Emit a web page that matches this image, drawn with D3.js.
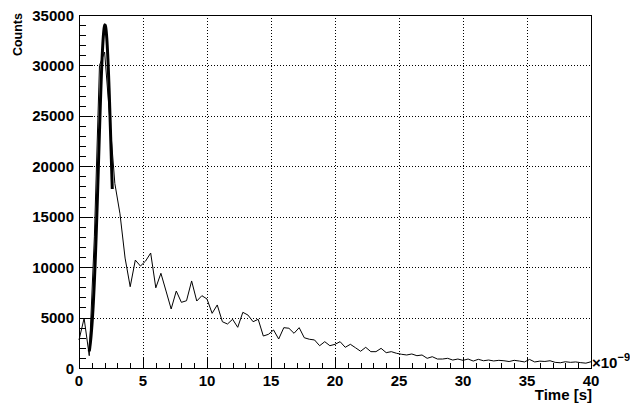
<!DOCTYPE html>
<html>
<head>
<meta charset="utf-8">
<script src="https://cdn.jsdelivr.net/npm/d3@7/dist/d3.min.js"></script>
<style>
  html, body { margin: 0; padding: 0; background: #fff; }
  svg { display: block; font-family: "Liberation Sans", Arial, Helvetica, sans-serif; font-weight: bold; }
</style>
</head>
<body>
<svg id="chart" width="630" height="403"></svg>
<script>
// Histogram of photon arrival times: counts per 0.4 ns bin, starting at t = 0
const binWidth = 0.4;
const counts = [
  2780, 4930, 1220, 13000, 30000, 31330, 24800, 18300, 15300, 10900,
  8060, 10700, 10110, 10600, 11400, 7950, 9390, 7630, 5850, 7630,
  6510, 6670, 8630, 6640, 7170, 6840, 5420, 6250, 4590, 4360,
  4830, 4035, 5520, 5250, 4590, 4830, 3170, 3340, 3770, 2875,
  4000, 3940, 3440, 4000, 3000, 2850, 2780, 2210, 2610, 2210,
  2350, 2610, 2050, 2350, 2010, 1660, 2050, 1620, 1620, 1950,
  1520, 1620, 1460, 1360, 1290, 1390, 1220, 1290, 960, 1120,
  890, 890, 960, 790, 890, 760, 890, 690, 860, 720,
  790, 700, 760, 720, 640, 760, 690, 600, 850, 600,
  680, 650, 720, 560, 520, 620, 560, 600, 530, 480,
  620
];

// Gaussian fit to the prompt peak: [constant, mean, sigma] and fit range (ns)
const fitParams = [34000, 2.03, 0.5];
const fitRange = [0.8, 2.6];

// Axis ticks
const xTicks = [0, 5, 10, 15, 20, 25, 30, 35, 40];
const yTicks = [0, 5000, 10000, 15000, 20000, 25000, 30000, 35000];
const xDomain = [0, 40];
const yDomain = [0, 35000];

const frame = { left: 79, top: 15, right: 591, bottom: 368 };
const svg = d3.select("#chart");

const x = d3.scaleLinear().domain(xDomain).range([frame.left, frame.right]);
const y = d3.scaleLinear().domain(yDomain).range([frame.bottom, frame.top]);

// Dotted grid at the major ticks
const grid = svg.append("g").attr("shape-rendering", "crispEdges")
  .attr("stroke", "#000").attr("stroke-width", 1).attr("stroke-dasharray", "1,2");
grid.selectAll("line.gx").data(xTicks.slice(1, -1)).join("line")
  .attr("x1", d => Math.round(x(d)) + 0.5).attr("x2", d => Math.round(x(d)) + 0.5)
  .attr("y1", frame.top).attr("y2", frame.bottom);
grid.selectAll("line.gy").data(yTicks.slice(1, -1)).join("line")
  .attr("y1", d => Math.round(y(d)) + 0.5).attr("y2", d => Math.round(y(d)) + 0.5)
  .attr("x1", frame.left).attr("x2", frame.right);

// Inward ticks with minor subdivisions
const ticks = svg.append("g").attr("shape-rendering", "crispEdges").attr("stroke", "#000");
const xMinor = d3.range(xDomain[0], xDomain[1] + 0.001, 1);
ticks.selectAll("line.xt").data(xMinor).join("line")
  .attr("x1", d => Math.round(x(d)) + 0.5).attr("x2", d => Math.round(x(d)) + 0.5)
  .attr("y1", frame.bottom)
  .attr("y2", d => frame.bottom - (d % 5 === 0 ? 11 : 5.5));
const yMinor = d3.range(yDomain[0], yDomain[1] + 1, 1000);
ticks.selectAll("line.yt").data(yMinor).join("line")
  .attr("y1", d => Math.round(y(d)) + 0.5).attr("y2", d => Math.round(y(d)) + 0.5)
  .attr("x1", frame.left)
  .attr("x2", d => frame.left + (d % 5000 === 0 ? 14 : 7));

// Frame
svg.append("rect").attr("shape-rendering", "crispEdges")
  .attr("x", frame.left + 0.5).attr("y", frame.top + 0.5)
  .attr("width", frame.right - frame.left).attr("height", frame.bottom - frame.top)
  .attr("fill", "none").attr("stroke", "#000");

// Histogram drawn as a polyline through the bins
const points = counts.map((c, i) => [i * binWidth, c]);
svg.append("path").datum(points)
  .attr("fill", "none").attr("stroke", "#000").attr("stroke-width", 1)
  .attr("stroke-linejoin", "miter")
  .attr("d", d3.line().x(d => x(d[0])).y(d => y(d[1])));

// Gaussian fit curve
const gauss = t => fitParams[0] * Math.exp(-0.5 * Math.pow((t - fitParams[1]) / fitParams[2], 2));
const fitPts = d3.range(0, 101).map(i => {
  const t = fitRange[0] + (fitRange[1] - fitRange[0]) * i / 100;
  return [t, gauss(t)];
});
svg.append("path").datum(fitPts)
  .attr("fill", "none").attr("stroke", "#000").attr("stroke-width", 3)
  .attr("d", d3.line().x(d => x(d[0])).y(d => y(d[1])));

// Tick labels
const fs = 15;
svg.append("g").selectAll("text").data(xTicks).join("text")
  .attr("x", d => x(d)).attr("y", 386)
  .attr("text-anchor", "middle").attr("font-size", fs)
  .text(d => d);
svg.append("g").selectAll("text").data(yTicks).join("text")
  .attr("x", 74).attr("y", d => y(d) + 5.5)
  .attr("text-anchor", "end").attr("font-size", fs)
  .text(d => d);

// Axis exponent
const expo = svg.append("text").attr("x", 592).attr("y", 368).attr("font-size", fs);
expo.append("tspan").text("\u00d710");
expo.append("tspan").attr("dy", -7).attr("font-size", 11).text("\u22129");

// Axis titles
svg.append("text").attr("x", 592).attr("y", 400)
  .attr("text-anchor", "end").attr("font-size", 15).text("Time [s]");
svg.append("text").attr("transform", "translate(22,13) rotate(-90)")
  .attr("text-anchor", "end").attr("font-size", 12.5).text("Counts");
</script>
</body>
</html>
